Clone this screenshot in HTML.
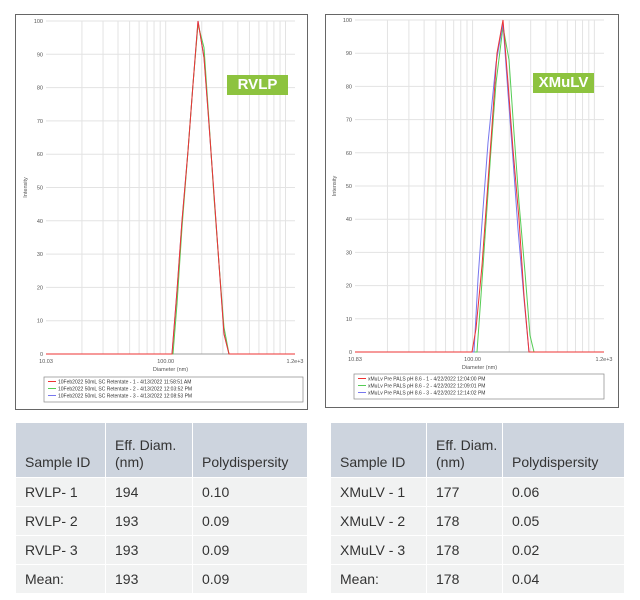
<!DOCTYPE html>
<html><head><meta charset="utf-8"><style>
body{margin:0;width:640px;height:600px;background:#fff;font-family:"Liberation Sans",sans-serif;position:relative;overflow:hidden}
.box{position:absolute;border:1.5px solid #666;background:#fff}
svg{position:absolute;left:0;top:0}
table{position:absolute;border-collapse:collapse;font-size:14px;color:#333}
td{border:1px solid #fff;padding:0 0 0 9px;height:28px;background:#f1f2f2}
tr.h td{background:#cdd4de;height:48px;vertical-align:bottom;padding-bottom:6px;line-height:17px}
.tag{position:absolute;background:#8dc33f;color:#fff;font-weight:bold;font-size:15px;text-align:center;line-height:20px}
</style></head><body>
<div class="box" style="left:15px;top:14px;width:291px;height:394px"></div>
<div class="box" style="left:325px;top:14px;width:292px;height:392px"></div>
<svg id="s" width="640" height="420"></svg>
<div class="tag" style="left:227px;top:75px;width:61px;height:20px">RVLP</div>
<div class="tag" style="left:533px;top:73px;width:61px;height:20px">XMuLV</div>
<table style="left:15px;top:422px;width:293px">
<tr class="h"><td style="width:80px">Sample ID</td><td style="width:77px">Eff. Diam.<br>(nm)</td><td>Polydispersity</td></tr>
<tr><td>RVLP- 1</td><td>194</td><td>0.10</td></tr>
<tr><td>RVLP- 2</td><td>193</td><td>0.09</td></tr>
<tr><td>RVLP- 3</td><td>193</td><td>0.09</td></tr>
<tr><td>Mean:</td><td>193</td><td>0.09</td></tr>
</table>
<table style="left:330px;top:422px;width:295px">
<tr class="h"><td style="width:86px">Sample ID</td><td style="width:66px">Eff. Diam.<br>(nm)</td><td>Polydispersity</td></tr>
<tr><td>XMuLV - 1</td><td>177</td><td>0.06</td></tr>
<tr><td>XMuLV - 2</td><td>178</td><td>0.05</td></tr>
<tr><td>XMuLV - 3</td><td>178</td><td>0.02</td></tr>
<tr><td>Mean:</td><td>178</td><td>0.04</td></tr>
</table>
<script>
var s=document.getElementById('s'),h='';
function chart(x0,x1,y0,y1,vmin,lbl,series,leg,lx,ly,lw){
 var dec=(x1-x0)/Math.log10(1200/vmin);
 function X(v){return x0+dec*Math.log10(v/vmin);}
 for(var i=0;i<=10;i++){var y=y1-(y1-y0)*i/10;h+='<line x1="'+x0+'" x2="'+x1+'" y1="'+y+'" y2="'+y+'" stroke="#e3e3e3" stroke-width="1"/>';
  h+='<text x="'+(x0-3)+'" y="'+(y+2)+'" font-size="5.5" fill="#555" text-anchor="end">'+(i*10)+'</text>';}
 [10,100,1000].forEach(function(d){for(var k=1;k<10;k++){var v=d*k;if(v<vmin||v>1200)continue;var x=X(v);
  h+='<line x1="'+x+'" x2="'+x+'" y1="'+y0+'" y2="'+y1+'" stroke="#e3e3e3" stroke-width="1"/>';}});
 h+='<line x1="'+x0+'" x2="'+x1+'" y1="'+y1+'" y2="'+y1+'" stroke="#888" stroke-width="0.7"/>';
 h+='<text x="'+x0+'" y="'+(y1+9)+'" font-size="5.5" fill="#555" text-anchor="middle">'+lbl+'</text>';
 h+='<text x="'+X(100)+'" y="'+(y1+9)+'" font-size="5.5" fill="#555" text-anchor="middle">100.00</text>';
 h+='<text x="'+x1+'" y="'+(y1+9)+'" font-size="5.5" fill="#555" text-anchor="middle">1.2e+3</text>';
 h+='<text x="'+((x0+x1)/2)+'" y="'+(y1+17)+'" font-size="5.5" fill="#555" text-anchor="middle">Diameter (nm)</text>';
 h+='<text transform="translate('+(x0-19)+','+((y0+y1)/2)+') rotate(-90)" font-size="5.5" fill="#555" text-anchor="middle">Intensity</text>';
 series.forEach(function(sr){var p=x0+','+y1+' '+sr.pts.map(function(q){return q[0]+','+(y1-(y1-y0)*q[1]/100)}).join(' ')+' '+x1+','+y1;
  h+='<polyline points="'+p+'" fill="none" stroke="'+sr.c+'" stroke-width="1"/>';});
 h+='<rect x="'+lx+'" y="'+ly+'" width="'+lw+'" height="25" fill="#fff" stroke="#888" stroke-width="0.7"/>';
 var cs=['#e33','#5c5','#77e'];
 leg.forEach(function(t,i){var y=ly+6+i*7;h+='<line x1="'+(lx+4)+'" x2="'+(lx+12)+'" y1="'+(y-1.5)+'" y2="'+(y-1.5)+'" stroke="'+cs[i]+'"/>';
  h+='<text x="'+(lx+14)+'" y="'+(y+0.5)+'" font-size="5" fill="#333">'+t+'</text>';});
}
var L=[[172,0],[177,19],[182,40],[188,61],[193,81],[198,100],[204,89],[209,69],[214,48],[219,27],[224,6],[229,0]];
chart(46,295,21,354,10.03,'10.03',[
 {c:'#77e',pts:L},{c:'#5c5',pts:[[173,0],[177,15],[182,38],[188,61],[193,81],[198,99],[204,92],[209,70],[214,47],[219,27],[224,8],[229,0]]},{c:'#e33',pts:L}],
 ['10Feb2022 50mL SC Retentate - 1 - 4/13/2022 11:58:51 AM','10Feb2022 50mL SC Retentate - 2 - 4/13/2022 12:03:52 PM','10Feb2022 50mL SC Retentate - 3 - 4/13/2022 12:08:53 PM'],44,377,259);
chart(355,604,20,352,10.83,'10.83',[
 {c:'#5c5',pts:[[477,0],[481,17],[486,39],[491,61],[496,81],[503,98],[509,88],[514,66],[519,45],[525,24],[530,5],[534,0]]},
 {c:'#77e',pts:[[474,0],[478,22],[483,43],[488,63],[496,87],[503,99],[508,78],[513,58],[518,37],[524,16],[529,0]]},
 {c:'#e33',pts:[[472,0],[476,7],[482,26],[487,47],[492,68],[497,90],[503,100],[508,81],[513,61],[519,40],[524,17],[529,0]]}],
 ['xMuLv Pre PALS pH 8.6 - 1 - 4/22/2022 12:04:00 PM','xMuLv Pre PALS pH 8.6 - 2 - 4/22/2022 12:09:01 PM','xMuLv Pre PALS pH 8.6 - 3 - 4/22/2022 12:14:02 PM'],354,374,250);
s.innerHTML=h;
</script>
</body></html>
